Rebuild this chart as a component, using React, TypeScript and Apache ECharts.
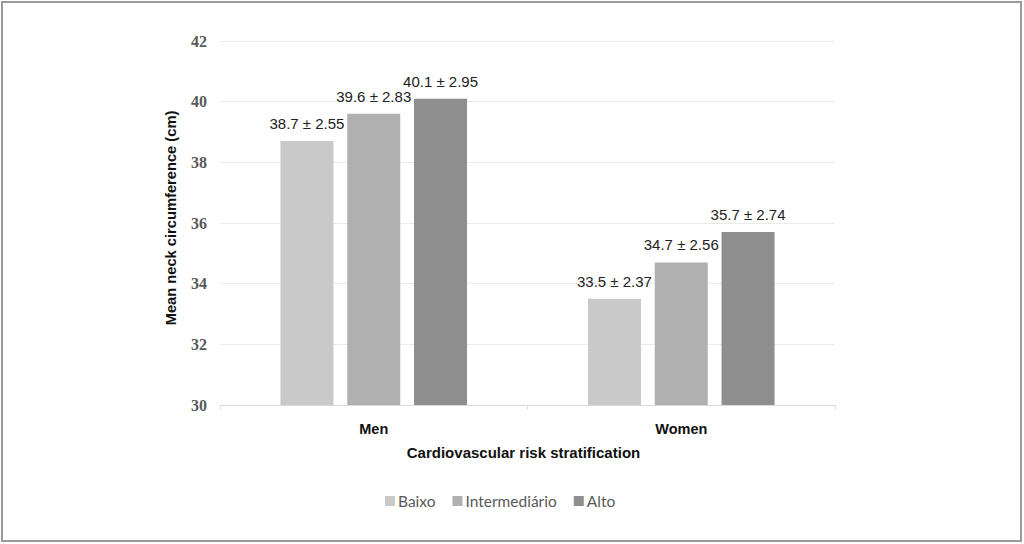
import React, { useEffect, useRef } from "react";
import * as echarts from "echarts";

const categories = ["Men", "Women"];
const seriesNames = ["Baixo", "Intermediário", "Alto"];
const meanValues = [
  [38.7, 33.5],
  [39.6, 34.7],
  [40.1, 35.7],
];
const sdValues = [
  [2.55, 2.37],
  [2.83, 2.56],
  [2.95, 2.74],
];
const colors = ["#c9c9c9", "#b0b0b0", "#8e8e8e"];

export default function App() {
  const ref = useRef<HTMLDivElement>(null);
  useEffect(() => {
    if (!ref.current) return;
    const chart = echarts.init(ref.current, null, { renderer: "svg" });
    chart.setOption({
      animation: false,
      backgroundColor: "#ffffff",
      grid: { left: 220, right: 189, top: 41, bottom: 139 },
      legend: {
        data: seriesNames,
        top: 488,
        left: 380,
        icon: "rect",
        itemWidth: 10,
        itemHeight: 10,
        itemGap: 17,
        textStyle: { color: "#595959", fontFamily: "Lato", fontSize: 15.5, padding: [0, 0, 0, -2] },
      },
      xAxis: {
        type: "category",
        data: categories,
        name: "Cardiovascular risk stratification",
        nameLocation: "middle",
        nameGap: 40,
        nameTextStyle: {
          fontFamily: "Arial, Liberation Sans",
          fontWeight: "bold",
          fontSize: 15,
          color: "#111",
          padding: [0, 8, 0, 0],
        },
        axisLine: { show: true, lineStyle: { color: "#d9d9d9", width: 1 } },
        axisTick: { show: true, length: 5, lineStyle: { color: "#e0e0e0" } },
        axisLabel: { margin: 16, fontFamily: "Arial, Liberation Sans", fontWeight: "bold", fontSize: 14.5, color: "#111" },
      },
      yAxis: {
        type: "value",
        min: 30,
        max: 42,
        interval: 2,
        name: "Mean neck circumference (cm)",
        nameLocation: "middle",
        nameGap: 42,
        nameTextStyle: {
          fontFamily: "Arial, Liberation Sans",
          fontWeight: "bold",
          fontSize: 14.7,
          color: "#111",
          padding: [0, 0, 0, 10],
        },
        axisLine: { show: false },
        axisTick: { show: false },
        splitLine: { lineStyle: { color: "#ebebeb", width: 1 } },
        axisLabel: { margin: 13, fontFamily: "Liberation Serif", fontWeight: "bold", fontSize: 16, color: "#595959" },
      },
      series: seriesNames.map((name, i) => ({
        name,
        type: "bar",
        data: meanValues[i],
        barWidth: 53,
        barGap: "26%",
        itemStyle: { color: colors[i] },
        label: {
          show: true,
          position: "top",
          distance: 10,
          fontFamily: "Arial, Liberation Sans",
          fontSize: 15,
          color: "#222",
          formatter: (p: any) => `${meanValues[i][p.dataIndex].toFixed(1)} ± ${sdValues[i][p.dataIndex].toFixed(2)}`,
        },
      })),
      graphic: [
        {
          type: "rect",
          shape: { x: 2, y: 2, width: 1019, height: 539 },
          style: { fill: "none", stroke: "#9a9a9a", lineWidth: 2 },
          silent: true,
        },
      ],
    });
    return () => chart.dispose();
  }, []);
  return (
    <div
      ref={ref}
      style={{ position: "absolute", left: 0, top: 0, width: 1024, height: 544 }}
    />
  );
}
